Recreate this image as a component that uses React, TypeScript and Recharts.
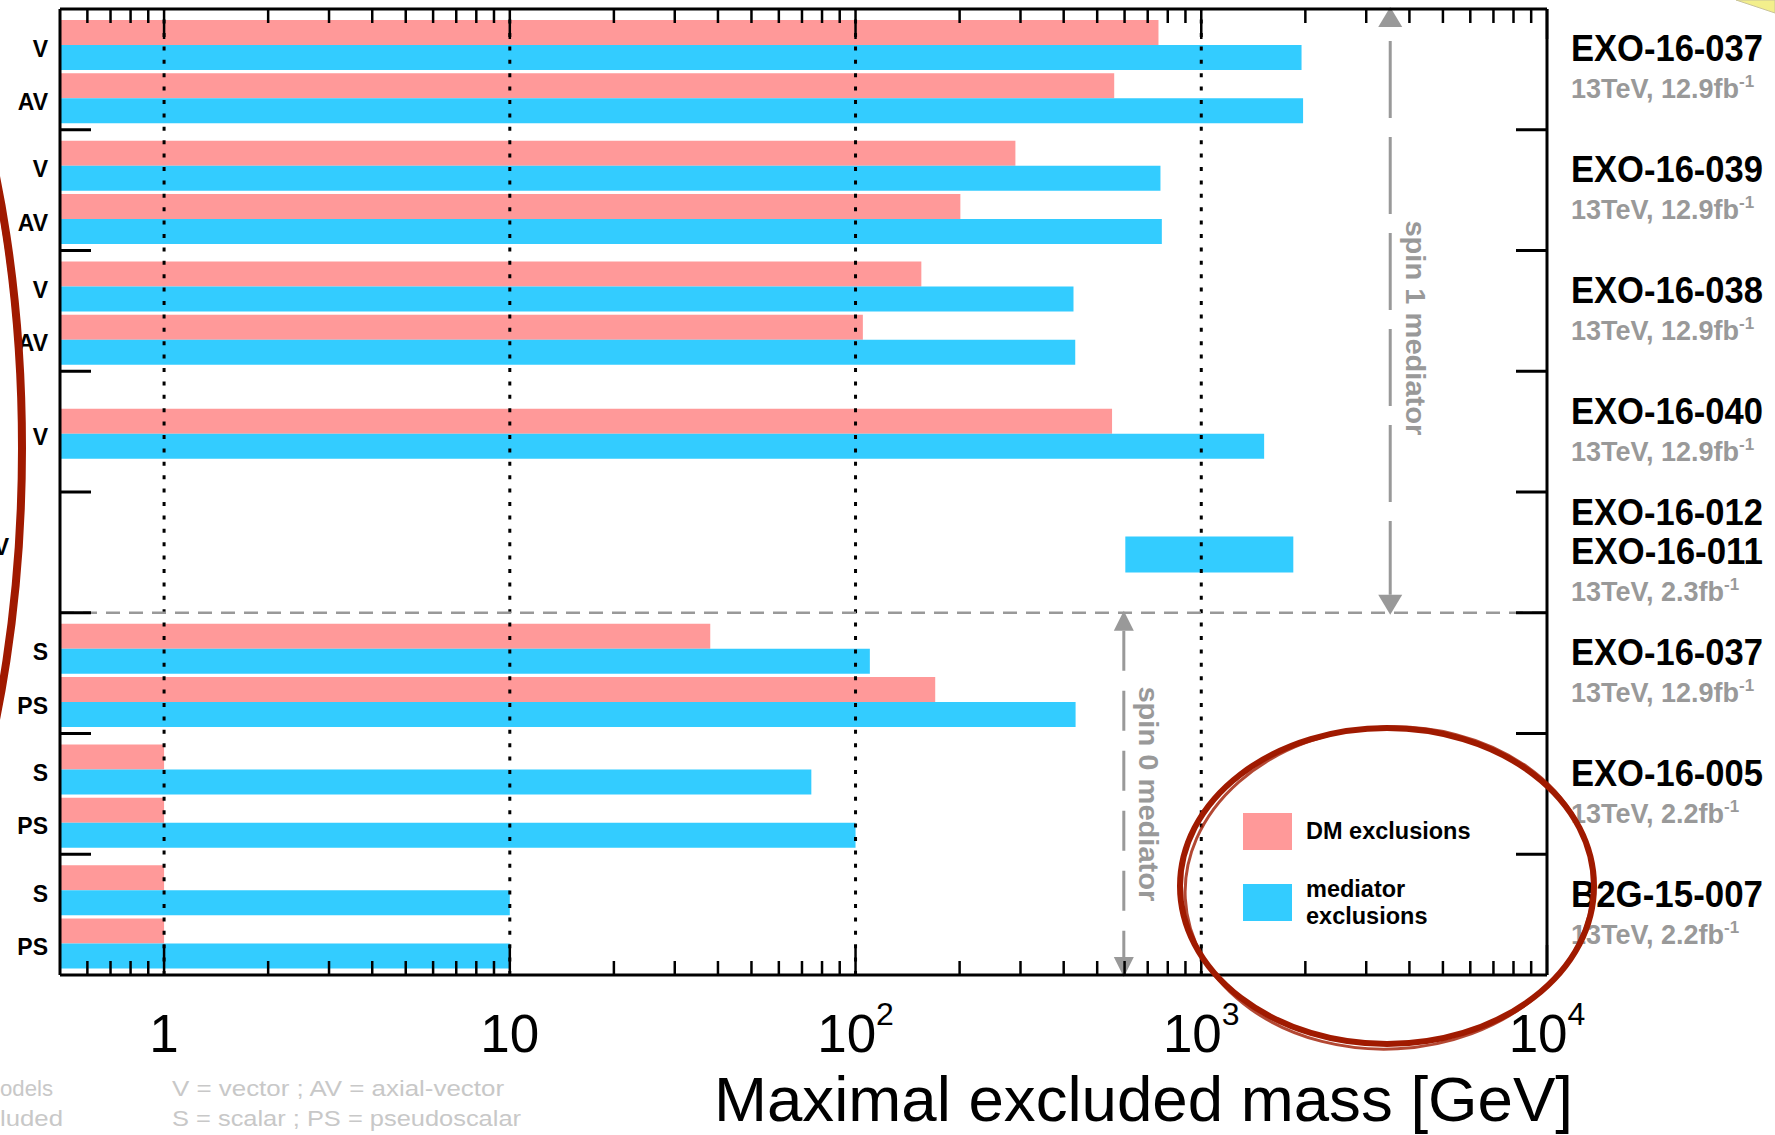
import React from "react";
import { BarChart, Bar, XAxis, YAxis, ReferenceLine, Legend } from "recharts";

const FONT = '"Liberation Sans", Arial, Helvetica, sans-serif';
const PINK = "#ff9999";
const BLUE = "#33ccff";
const GREY = "#999999";

// analyses, top to bottom
const analyses = [
  ["EXO-16-037"],
  ["EXO-16-039"],
  ["EXO-16-038"],
  ["EXO-16-040"],
  ["EXO-16-012", "EXO-16-011"],
  ["EXO-16-037"],
  ["EXO-16-005"],
  ["B2G-15-007"],
];
const lumis = ["12.9", "12.9", "12.9", "12.9", "2.3", "12.9", "2.2", "2.2"];

// one entry per model row
const rowAnalysis = [0, 0, 1, 1, 2, 2, 3, 4, 5, 5, 6, 6, 7, 7];
const rowModel = ["V", "AV", "V", "AV", "V", "AV", "V", "", "S", "PS", "S", "PS", "S", "PS"];
const dmExcluded = [752, 560, 290, 201, 155, 105, 552, null, 38, 170, 1, 1, 1, 1];
const medExcluded = [1950, 1970, 762, 769, 427, 432, 1520, 1846, 110, 433, 74.5, 100, 10, 10];
const medFrom = [null, null, null, null, null, null, null, 603, null, null, null, null, null, null];

const MASS_MIN = 0.5;
const MASS_MAX = 10000;
const xMajor = [1, 10, 100, 1000, 10000];

const data = rowAnalysis.map((g, i) => {
  const n = rowAnalysis.filter((a) => a === g).length;
  const k = rowAnalysis.slice(0, i).filter((a) => a === g).length;
  const pos = 2 * g + (n === 1 ? 1.03 : k === 0 ? 0.59 : 1.47);
  const wide = medFrom[i] != null;
  return {
    pos,
    model: rowModel[i],
    dm: dmExcluded[i] == null ? null : [MASS_MIN, dmExcluded[i]],
    med: wide ? null : [MASS_MIN, medExcluded[i]],
    dijet: wide ? [medFrom[i], medExcluded[i]] : null,
  };
});

const xTicks = [0.1, 1, 10, 100, 1000]
  .flatMap((d) => [1, 2, 3, 4, 5, 6, 7, 8, 9].map((m) => +(m * d).toPrecision(3)))
  .filter((v) => v > MASS_MIN)
  .concat([MASS_MAX]);

const boundaries = analyses.slice(1).map((_, g) => 2 * (g + 1));
const leftTicks = boundaries.concat(data.filter((d) => d.model).map((d) => d.pos));
const rightTicks = boundaries.concat(analyses.map((_, g) => 2 * g + 1));

const isMajor = (v: number) => xMajor.some((m) => Math.abs(m - v) < 1e-9);

function BottomTick(props: any) {
  const { x, y, payload } = props;
  const v = payload.value;
  const major = isMajor(v);
  const exp = Math.round(Math.log10(v));
  return (
    <g>
      <line x1={x} x2={x} y1={y} y2={y - (major ? 30 : 14)} stroke="#000" strokeWidth={2.5} />
      {major && (
        <text x={x} y={y + 77} textAnchor="middle" fontSize={53} fontFamily={FONT} fill="#000">
          {exp <= 1 ? (
            String(v)
          ) : (
            <>
              <tspan>10</tspan>
              <tspan dy={-27} fontSize={32}>{exp}</tspan>
            </>
          )}
        </text>
      )}
    </g>
  );
}

function TopTick(props: any) {
  const { x, y, payload } = props;
  const major = isMajor(payload.value);
  return <line x1={x} x2={x} y1={y} y2={y + (major ? 30 : 14)} stroke="#000" strokeWidth={2.5} />;
}

function LeftTick(props: any) {
  const { x, y, payload } = props;
  const v = payload.value;
  if (Number.isInteger(v)) {
    return <line x1={x} x2={x + 31} y1={y} y2={y} stroke="#000" strokeWidth={3} />;
  }
  const row = data.find((d) => Math.abs(d.pos - v) < 1e-6);
  return (
    <text x={x - 12} y={y + 12} textAnchor="end" fontSize={23} fontWeight="bold" fontFamily={FONT} fill="#000">
      {row ? row.model : ""}
    </text>
  );
}

function RightTick(props: any) {
  const { x, y, payload } = props;
  const v = payload.value;
  if (v % 2 === 0) {
    return <line x1={x} x2={x - 31} y1={y} y2={y} stroke="#000" strokeWidth={3} />;
  }
  const g = (v - 1) / 2;
  const titles = analyses[g];
  const first = y - 21 - 19.5 * (titles.length - 1);
  return (
    <g fontFamily={FONT}>
      {titles.map((t, i) => (
        <text key={i} x={x + 24} y={first + 39 * i + 13} fontSize={36} fontWeight="bold" fill="#000" textLength={192} lengthAdjust="spacingAndGlyphs">
          {t}
        </text>
      ))}
      <text x={x + 24} y={first + 39 * (titles.length - 1) + 41 + 9} fontSize={27} fontWeight="bold" fill={GREY}>
        <tspan>{`13TeV, ${lumis[g]}fb`}</tspan>
        <tspan dy={-11} fontSize={17}>-1</tspan>
      </text>
    </g>
  );
}

const spinArrow = (label: string, dash: string, aw: number, gapTop: number, textShift: number) => (p: any) => {
  const top = Math.min(p.y1, p.y2);
  const bot = Math.max(p.y1, p.y2);
  const x = p.x1;
  const ah = 18;
  return (
    <g>
      <line x1={x} x2={x} y1={top + ah + gapTop} y2={bot - ah} stroke={GREY} strokeWidth={3} strokeDasharray={dash} />
      <polygon points={`${x},${top - 2} ${x - aw},${top + ah} ${x + aw},${top + ah}`} fill={GREY} />
      <polygon points={`${x},${bot + 2} ${x - aw},${bot - ah} ${x + aw},${bot - ah}`} fill={GREY} />
      <text
        transform={`translate(${x + 25},${(top + bot) / 2 + textShift}) rotate(90)`}
        textAnchor="middle"
        dominantBaseline="central"
        fill={GREY}
        fontSize={28}
        fontWeight="bold"
        fontFamily={FONT}
        textLength={215}
        lengthAdjust="spacingAndGlyphs"
      >
        {label}
      </text>
    </g>
  );
};

const legendItems = [
  { color: PINK, lines: ["DM exclusions"] },
  { color: BLUE, lines: ["mediator", "exclusions"] },
];

const LegendBox = () => (
  <div style={{ fontFamily: FONT, fontWeight: "bold", fontSize: 23.5, color: "#000" }}>
    {legendItems.map((it, i) => (
      <div key={i} style={{ display: "flex", alignItems: "center", height: 37, marginTop: i ? 34 : 0 }}>
        <div style={{ width: 49, height: 37, background: it.color, flex: "none" }} />
        <div style={{ marginLeft: 14, lineHeight: "27px", whiteSpace: "nowrap" }}>
          {it.lines.map((l, j) => (
            <div key={j}>{l}</div>
          ))}
        </div>
      </div>
    ))}
  </div>
);

const AxisTitle = (props: any) => {
  const vb = props.viewBox;
  return (
    <text x={vb.x + vb.width + 26} y={vb.y + 146} textAnchor="end" fontSize={63} fontFamily={FONT} fill="#000" textLength={859} lengthAdjust="spacingAndGlyphs">
      Maximal excluded mass [GeV]
    </text>
  );
};

export default function App() {
  return (
    <div style={{ position: "absolute", left: 0, top: 0, width: 1775, height: 1135, background: "#fff", overflow: "hidden" }}>
      <BarChart
        width={1775}
        height={1135}
        data={data}
        layout="vertical"
        margin={{ top: 8, left: 59, right: 227, bottom: 159 }}
        barGap={0}
        style={{ fontFamily: FONT }}
      >
        <XAxis
          type="number"
          scale="log"
          domain={[MASS_MIN, MASS_MAX]}
          allowDataOverflow
          ticks={xTicks}
          interval={0}
          height={1}
          tickSize={0}
          tickMargin={0}
          tick={<BottomTick />}
          axisLine={{ stroke: "#000", strokeWidth: 3 }}
          label={{ content: <AxisTitle /> }}
        />
        <XAxis
          xAxisId="top"
          orientation="top"
          type="number"
          scale="log"
          domain={[MASS_MIN, MASS_MAX]}
          allowDataOverflow
          ticks={xTicks}
          interval={0}
          height={1}
          tickSize={0}
          tickMargin={0}
          tick={<TopTick />}
          axisLine={{ stroke: "#000", strokeWidth: 3 }}
        />
        <YAxis
          type="number"
          dataKey="pos"
          domain={[0, 16]}
          allowDataOverflow
          ticks={leftTicks}
          interval={0}
          width={1}
          tickSize={0}
          tickMargin={0}
          tick={<LeftTick />}
          axisLine={{ stroke: "#000", strokeWidth: 3 }}
        />
        <YAxis
          yAxisId="right"
          orientation="right"
          type="number"
          dataKey="pos"
          domain={[0, 16]}
          allowDataOverflow
          ticks={rightTicks}
          interval={0}
          width={1}
          tickSize={0}
          tickMargin={0}
          tick={<RightTick />}
          axisLine={{ stroke: "#000", strokeWidth: 3 }}
        />
        <Bar dataKey="dm" name="DM exclusions" fill={PINK} barSize={25} isAnimationActive={false} />
        <Bar dataKey="med" name="mediator exclusions" fill={BLUE} barSize={25} isAnimationActive={false} />
        <Bar dataKey="dijet" yAxisId="right" name="mediator exclusions" fill={BLUE} barSize={36} isAnimationActive={false} legendType="none" />
        {xMajor.slice(0, 4).map((v) => (
          <ReferenceLine key={v} x={v} stroke="#000" strokeWidth={3} strokeDasharray="4 9.4" />
        ))}
        <ReferenceLine y={10} stroke={GREY} strokeWidth={2.5} strokeDasharray="14 9" />
        <ReferenceLine
          segment={[{ x: 3520, y: 0 }, { x: 3520, y: 10 }]}
          shape={spinArrow("spin 1 mediator", "77 19", 12, 14, 17)}
        />
        <ReferenceLine
          segment={[{ x: 597, y: 10 }, { x: 597, y: 16 }]}
          shape={spinArrow("spin 0 mediator", "40 20", 10, 0, 0)}
        />
        <Legend
          layout="horizontal"
          verticalAlign="middle"
          align="center"
          content={<LegendBox />}
          wrapperStyle={{ position: "absolute", left: 1243, top: 813, width: 300, height: 120 }}
        />
      </BarChart>
      <svg width={1775} height={1135} style={{ position: "absolute", left: 0, top: 0, pointerEvents: "none" }} fontFamily={FONT}>
        <text x={172} y={1096} fontSize={22} fill="#c8c8c8" textLength={332} lengthAdjust="spacingAndGlyphs">
          V = vector ; AV = axial-vector
        </text>
        <text x={172} y={1126} fontSize={22} fill="#c8c8c8" textLength={349} lengthAdjust="spacingAndGlyphs">
          S = scalar ; PS = pseudoscalar
        </text>
        <text x={0} y={1096} fontSize={22} fill="#c8c8c8" textLength={53} lengthAdjust="spacingAndGlyphs">odels</text>
        <text x={0} y={1126} fontSize={22} fill="#c8c8c8" textLength={63} lengthAdjust="spacingAndGlyphs">luded</text>
        <text x={9} y={555} fontSize={23} fontWeight="bold" textAnchor="end" fill="#000">V</text>
        <ellipse cx={-200} cy={448} rx={222} ry={578} fill="none" stroke="#a01a00" strokeWidth={8} />
        <ellipse cx={-202} cy={450} rx={223} ry={575} fill="none" stroke="#a01a00" strokeWidth={4} opacity={0.7} />
        <ellipse cx={1387} cy={886} rx={207} ry={158} fill="none" stroke="#a01a00" strokeWidth={6} />
        <ellipse cx={1389} cy={888} rx={204} ry={161} fill="none" stroke="#a01a00" strokeWidth={3} opacity={0.8} transform="rotate(-3 1389 888)" />
        <polygon points="1736,0 1775,0 1775,13" fill="#f3ef8c" stroke="#c9c49a" strokeWidth={1} />
      </svg>
    </div>
  );
}
